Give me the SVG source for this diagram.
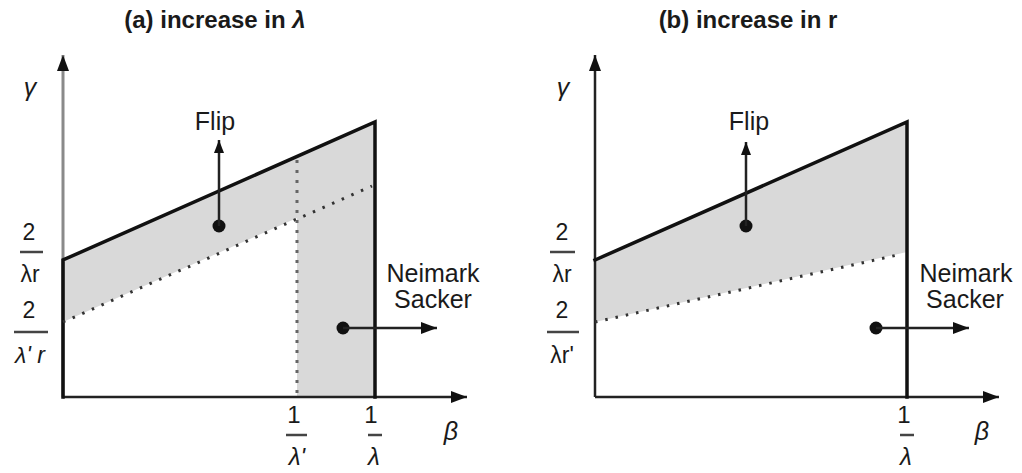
<svg xmlns="http://www.w3.org/2000/svg" width="1022" height="473" viewBox="0 0 1022 473">
<style>
  text { font-family: "Liberation Sans", Arial, sans-serif; fill: #1a1a1a; }
  .title { font-size: 24px; font-weight: bold; text-anchor: middle; }
  .lbl { font-size: 25px; text-anchor: middle; }
  .num { font-size: 23px; text-anchor: middle; }
  .bnum { font-size: 24px; text-anchor: middle; }
  .it { font-style: italic; }
  .shade { fill: #d9d9d9; stroke: none; }
  .bound { stroke: #111; stroke-width: 3.5; fill: none; stroke-linecap: square; }
  .axis { stroke: #222; stroke-width: 2.5; fill: none; }
  .dot { stroke: #333; stroke-width: 3; fill: none; stroke-dasharray: 2.5 8; }
  .vdot { stroke: #666; stroke-width: 3; fill: none; stroke-dasharray: 3 7; }
  .bar { stroke: #444; stroke-width: 2.5; }
  .arr { stroke: #222; stroke-width: 2.5; fill: none; }
</style>
<defs>
  <marker id="ah" markerUnits="userSpaceOnUse" markerWidth="18" markerHeight="12" refX="16" refY="6" orient="auto">
    <path d="M0,0 L16,6 L0,12 Z" fill="#111"/>
  </marker>
  <marker id="ahs" markerUnits="userSpaceOnUse" markerWidth="14" markerHeight="10" refX="13" refY="5" orient="auto">
    <path d="M0,0 L13,5 L0,10 Z" fill="#111"/>
  </marker>
</defs>

<g id="panel-a">
  <text class="title" x="215" y="28">(a) increase in <tspan class="it">λ</tspan></text>
  <polygon class="shade" points="63,260 375,122 375,397 297,397 297,218 63,322"/>
  <line x1="63" y1="397" x2="63" y2="55" stroke="#8a8a8a" stroke-width="3" marker-end="url(#ah)"/>
  <line class="axis" x1="63" y1="397" x2="467" y2="397" marker-end="url(#ah)"/>
  <polyline class="bound" points="63,397 63,260 375,122 375,397"/>
  <line class="dot" x1="63" y1="322" x2="372" y2="186"/>
  <line class="vdot" x1="297" y1="160" x2="297" y2="397"/>
  <text class="it lbl" x="30" y="96">γ</text>
  <text class="it lbl" x="451" y="440">β</text>
  <g id="a-ylabel1">
    <text class="num" x="29" y="240">2</text>
    <line class="bar" x1="20" y1="252" x2="43" y2="252"/>
    <text class="num" x="30" y="282">λr</text>
  </g>
  <g id="a-ylabel2">
    <text class="num" x="29" y="318">2</text>
    <line class="bar" x1="14" y1="332" x2="48" y2="332"/>
    <text class="num it" x="30" y="363">λ' r</text>
  </g>
  <g id="a-xlabel1">
    <text class="bnum" x="294" y="423">1</text>
    <line class="bar" x1="286" y1="435" x2="307" y2="435"/>
    <text class="bnum it" x="297" y="465">λ'</text>
  </g>
  <g id="a-xlabel2">
    <text class="bnum" x="371" y="423">1</text>
    <line class="bar" x1="368" y1="435" x2="382" y2="435"/>
    <text class="bnum it" x="374" y="465">λ</text>
  </g>
  <g id="a-flip">
    <text class="lbl" x="215" y="130">Flip</text>
    <circle cx="219" cy="226" r="6.5" fill="#111"/>
    <line class="arr" x1="219" y1="226" x2="219" y2="140" marker-end="url(#ahs)"/>
  </g>
  <g id="a-ns">
    <text class="lbl" x="433" y="282">Neimark</text>
    <text class="lbl" x="433" y="308">Sacker</text>
    <circle cx="343" cy="328" r="6.5" fill="#111"/>
    <line class="arr" x1="343" y1="328" x2="437" y2="328" marker-end="url(#ah)"/>
  </g>
</g>

<g id="panel-b">
  <text class="title" x="748" y="28">(b) increase in r</text>
  <polygon class="shade" points="595,260 907,122 907,252 595,322"/>
  <line class="axis" x1="595" y1="397" x2="595" y2="55" marker-end="url(#ah)"/>
  <line class="axis" x1="595" y1="397" x2="999" y2="397" marker-end="url(#ah)"/>
  <polyline class="bound" points="595,260 907,122 907,397"/>
  <line class="dot" x1="595" y1="322" x2="902" y2="254"/>
  <text class="it lbl" x="563" y="96">γ</text>
  <text class="it lbl" x="982" y="440">β</text>
  <g id="b-ylabel1">
    <text class="num" x="562" y="240">2</text>
    <line class="bar" x1="550" y1="252" x2="575" y2="252"/>
    <text class="num" x="562" y="282">λr</text>
  </g>
  <g id="b-ylabel2">
    <text class="num" x="562" y="318">2</text>
    <line class="bar" x1="547" y1="332" x2="579" y2="332"/>
    <text class="num" x="562" y="363">λr'</text>
  </g>
  <g id="b-xlabel">
    <text class="bnum" x="904" y="423">1</text>
    <line class="bar" x1="900" y1="435" x2="914" y2="435"/>
    <text class="bnum it" x="906" y="465">λ</text>
  </g>
  <g id="b-flip">
    <text class="lbl" x="749" y="130">Flip</text>
    <circle cx="746" cy="226" r="6.5" fill="#111"/>
    <line class="arr" x1="746" y1="226" x2="746" y2="142" marker-end="url(#ahs)"/>
  </g>
  <g id="b-ns">
    <text class="lbl" x="966" y="282">Neimark</text>
    <text class="lbl" x="965" y="308">Sacker</text>
    <circle cx="876" cy="328" r="6.5" fill="#111"/>
    <line class="arr" x1="876" y1="328" x2="969" y2="328" marker-end="url(#ah)"/>
  </g>
</g>
</svg>
